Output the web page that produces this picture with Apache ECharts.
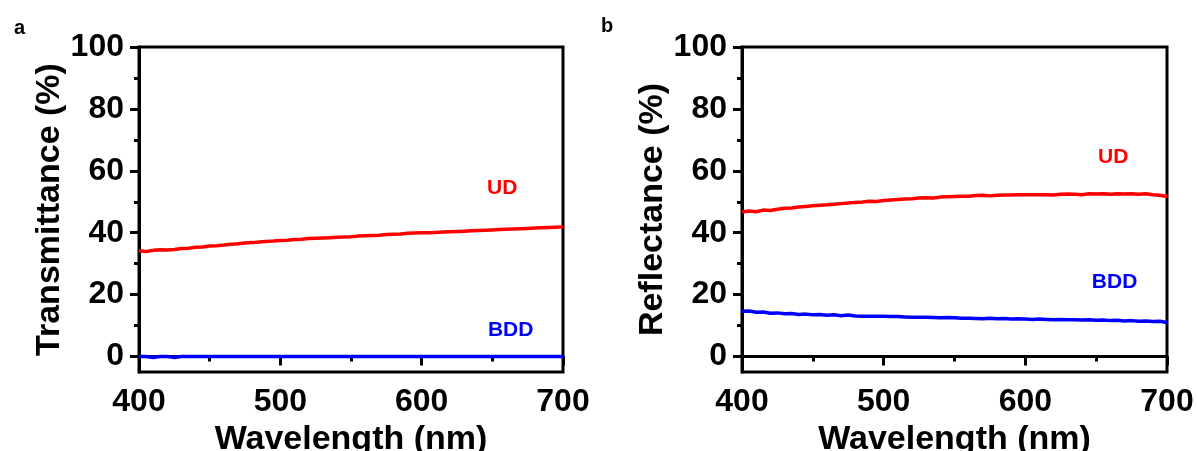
<!DOCTYPE html>
<html>
<head>
<meta charset="utf-8">
<script src="https://cdn.jsdelivr.net/npm/echarts@6/dist/echarts.min.js"></script>
<style>
  html, body { margin: 0; padding: 0; background: #fff; }
  #chart { width: 1198px; height: 451px; }
</style>
</head>
<body>
<div id="chart"></div>
<script>
// Wavelength grid (nm), 5 nm steps
const wavelengths = [];
for (let w = 400; w <= 700; w += 5) wavelengths.push(w);

// Panel a: transmittance (%)
const transUD = [34.2, 33.9, 34.3, 34.5, 34.4, 34.6, 34.9, 35.0, 35.3, 35.4,
  35.7, 35.8, 36.0, 36.3, 36.4, 36.7, 36.8, 37.0, 37.2, 37.3,
  37.5, 37.6, 37.8, 37.9, 38.1, 38.2, 38.3, 38.4, 38.5, 38.6,
  38.7, 38.9, 39.0, 39.1, 39.2, 39.4, 39.5, 39.6, 39.8, 39.9,
  40.0, 40.0, 40.1, 40.2, 40.3, 40.4, 40.5, 40.6, 40.7, 40.8,
  40.9, 41.0, 41.1, 41.2, 41.3, 41.4, 41.5, 41.6, 41.7, 41.8, 41.9];
const transBDD = [0.0, 0.0, -0.3, 0.0, 0.0, -0.3, 0.0, 0.0, 0.0, 0.0,
  0.0, 0.0, 0.0, 0.0, 0.0, 0.0, 0.0, 0.0, 0.0, 0.0,
  0.0, 0.0, 0.0, 0.0, 0.0, 0.0, 0.0, 0.0, 0.0, 0.0,
  0.0, 0.0, 0.0, 0.0, 0.0, 0.0, 0.0, 0.0, 0.0, 0.0,
  0.0, 0.0, 0.0, 0.0, 0.0, 0.0, 0.0, 0.0, 0.0, 0.0,
  0.0, 0.0, 0.0, 0.0, 0.0, 0.0, 0.0, 0.0, 0.0, 0.0, 0.0];

// Panel b: reflectance (%)
const reflUD = [46.7, 47.0, 46.8, 47.3, 47.2, 47.6, 47.9, 48.0, 48.3, 48.5,
  48.7, 48.9, 49.0, 49.2, 49.4, 49.6, 49.8, 49.9, 50.2, 50.1,
  50.4, 50.6, 50.7, 50.9, 51.0, 51.2, 51.3, 51.2, 51.5, 51.6,
  51.7, 51.8, 51.8, 52.0, 52.1, 51.9, 52.1, 52.2, 52.2, 52.3,
  52.3, 52.3, 52.3, 52.3, 52.2, 52.4, 52.5, 52.4, 52.3, 52.6,
  52.5, 52.6, 52.4, 52.6, 52.5, 52.6, 52.4, 52.6, 52.3, 52.1, 51.7];
const reflBDD = [14.6, 14.7, 14.3, 14.4, 14.0, 14.1, 13.8, 13.9, 13.6, 13.7,
  13.5, 13.6, 13.3, 13.5, 13.2, 13.4, 13.1, 13.0, 13.0, 13.0,
  13.0, 12.9, 12.9, 12.8, 12.7, 12.7, 12.7, 12.6, 12.5, 12.6,
  12.5, 12.4, 12.4, 12.3, 12.2, 12.4, 12.2, 12.3, 12.1, 12.2,
  12.1, 12.0, 12.1, 12.0, 11.9, 12.0, 11.9, 11.9, 11.8, 11.9,
  11.7, 11.8, 11.6, 11.7, 11.5, 11.6, 11.4, 11.5, 11.3, 11.4, 11.0];

// Axis ticks
const yMajorTicks = [0, 20, 40, 60, 80, 100];
const yMinorTicks = [10, 30, 50, 70, 90];

// Series label anchors in data space: [wavelength, percent]
const labelsA = [{ name: 'UD', coord: [657, 54.5] }, { name: 'BDD', coord: [663, 8.4] }];
const labelsB = [{ name: 'UD', coord: [662, 64.5] }, { name: 'BDD', coord: [663, 23.9] }];

const FONT = "'Liberation Sans', Arial, sans-serif";
const RED = '#ff0000';
const BLUE = '#0000ff';

function pairs(ys) { return wavelengths.map((w, i) => [w, ys[i]]); }

function xAxisFor(gridIndex) {
  return {
    type: 'value', gridIndex, min: 400, max: 700, interval: 100,
    name: 'Wavelength (nm)', nameLocation: 'middle', nameGap: 45,
    nameTextStyle: { fontFamily: FONT, fontSize: 34, fontWeight: 'bold', color: '#000' },
    axisLine: { show: true, lineStyle: { color: '#000', width: 3 } },
    axisTick: { show: true, length: 9, lineStyle: { color: '#000', width: 3 } },
    minorTick: { show: true, splitNumber: 2, length: 5, lineStyle: { color: '#000', width: 3 } },
    axisLabel: { margin: 14, fontFamily: FONT, fontSize: 32, fontWeight: 'bold', color: '#000' },
    splitLine: { show: false }, minorSplitLine: { show: false }
  };
}

function yAxesFor(gridIndex, title) {
  return [{
    type: 'value', gridIndex, min: -5, max: 100,
    name: title, nameLocation: 'middle', nameGap: 64,
    nameTextStyle: { fontFamily: FONT, fontSize: 34, fontWeight: 'bold', color: '#000' },
    axisLine: { show: true, lineStyle: { color: '#000', width: 3 } },
    axisTick: { show: true, customValues: yMajorTicks, length: 9, lineStyle: { color: '#000', width: 3 } },
    axisLabel: { customValues: yMajorTicks, margin: 15, fontFamily: FONT, fontSize: 32, fontWeight: 'bold', color: '#000' },
    splitLine: { show: false }
  }, {
    // minor ticks between the labelled values
    type: 'value', gridIndex, min: -5, max: 100, position: 'left',
    axisLine: { show: false },
    axisTick: { show: true, customValues: yMinorTicks, length: 5, lineStyle: { color: '#000', width: 3 } },
    axisLabel: { show: false },
    splitLine: { show: false }
  }];
}

function lineSeries(xi, yi, data, color, labels) {
  return {
    type: 'line', xAxisIndex: xi, yAxisIndex: yi, data: pairs(data),
    showSymbol: false, symbol: 'none', silent: true,
    lineStyle: { color, width: 3.5 },
    markPoint: {
      symbol: 'circle', symbolSize: 0, silent: true,
      label: { show: true, position: 'inside', formatter: '{b}', fontFamily: FONT, fontSize: 21, fontWeight: 'bold', color },
      data: labels
    }
  };
}

const gridBase = { top: 47, bottom: 79, show: true, borderColor: '#000', borderWidth: 3, backgroundColor: 'transparent', containLabel: false, outerBoundsMode: 'none' };

const chart = echarts.init(document.getElementById('chart'), null, { renderer: 'canvas' });
chart.setOption({
  animation: false,
  backgroundColor: '#fff',
  title: [
    { text: 'a', left: 9, top: 13, textStyle: { fontFamily: FONT, fontSize: 20, fontWeight: 'bold', color: '#000' } },
    { text: 'b', left: 596, top: 11, textStyle: { fontFamily: FONT, fontSize: 20, fontWeight: 'bold', color: '#000' } }
  ],
  grid: [
    Object.assign({ left: 139, right: 635 }, gridBase),
    Object.assign({ left: 742, right: 31 }, gridBase)
  ],
  xAxis: [xAxisFor(0), xAxisFor(1)],
  yAxis: [...yAxesFor(0, 'Transmittance (%)'), ...yAxesFor(1, 'Reflectance (%)')],
  series: [
    lineSeries(0, 0, transUD, RED, [labelsA[0]]),
    lineSeries(0, 0, transBDD, BLUE, [labelsA[1]]),
    lineSeries(1, 2, reflUD, RED, [labelsB[0]]),
    lineSeries(1, 2, reflBDD, BLUE, [labelsB[1]])
  ]
});
</script>
</body>
</html>
